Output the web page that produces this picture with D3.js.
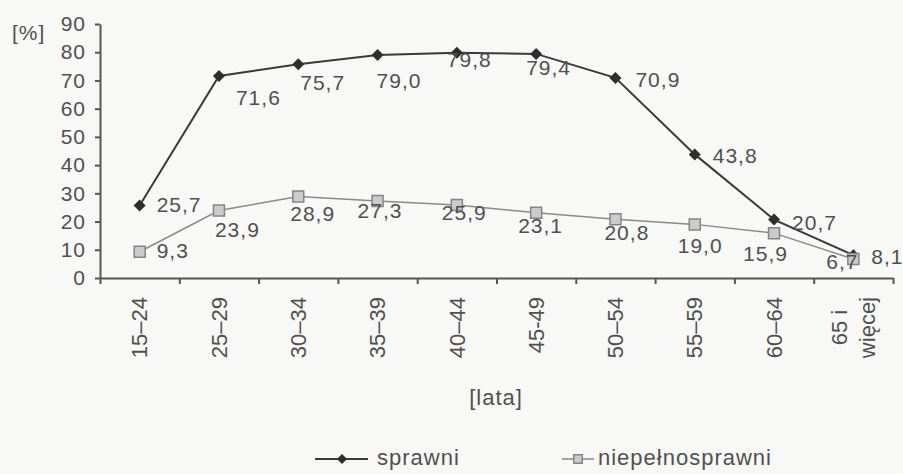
<!DOCTYPE html>
<html>
<head>
<meta charset="utf-8">
<script src="https://cdn.jsdelivr.net/npm/d3@7"></script>
<style>
  body { margin: 0; background: #f8f8f6; }
  svg { display: block; }
  text { font-family: "Liberation Sans", Arial, sans-serif; fill: #505050; }
</style>
</head>
<body>
<svg id="chart" width="903" height="474"></svg>
<script>
// data
var categories = ["15–24", "25–29", "30–34", "35–39", "40–44", "45-49", "50–54", "55–59", "60–64", "65 i\nwięcej"];
var sprawni = [25.7, 71.6, 75.7, 79.0, 79.8, 79.4, 70.9, 43.8, 20.7, 8.1];
var niepelnosprawni = [9.3, 23.9, 28.9, 27.3, 25.9, 23.1, 20.8, 19.0, 15.9, 6.7];
var yTicks = [0, 10, 20, 30, 40, 50, 60, 70, 80, 90];

// label offsets (dx, dy) from each point, as placed in the original
var sprawniLabelPos = [[17,7],[17,29],[2,26],[-1,33],[-10,14],[-10,21],[20,9],[18,9],[18,10],[18,9]];
var niepLabelPos = [[17,6],[-4,26],[-8,25],[-20,17],[-15,15],[-18,20],[-11,21],[-17,29],[-31,28],[-27,10]];

var svg = d3.select("#chart"),
    margin = {top: 24, right: 10, bottom: 196, left: 100},
    width = 793,
    height = 254;

var g = svg.append("g")
    .attr("transform", "translate(" + margin.left + "," + margin.top + ")");

var x = d3.scaleBand().domain(categories).range([0, width]);
var xb = d3.scaleLinear().domain([0, categories.length]).range([0, width]);
var y = d3.scaleLinear().domain([0, 90]).range([height, 0]);

var fmt = function(v) { return v.toFixed(1).replace(".", ","); };
var cx = function(i) { return x(categories[i]) + x.bandwidth() / 2; };

// y axis
var yAxis = g.append("g")
    .call(d3.axisLeft(y).tickValues(yTicks).tickSize(5).tickSizeOuter(0).tickPadding(9));
yAxis.selectAll("text")
    .style("font-size", "21px")
    .style("letter-spacing", "1px")
    .attr("fill", "#505050");

// x axis: ticks on category boundaries
var xAxis = g.append("g")
    .attr("transform", "translate(0," + height + ")")
    .call(d3.axisBottom(xb).tickValues(d3.range(categories.length + 1)).tickFormat("").tickSize(6).tickSizeOuter(0));

svg.selectAll(".domain, .tick line")
    .attr("stroke", "#555")
    .attr("stroke-width", 2);

// rotated category labels
var lab = g.append("g").selectAll("text")
  .data(categories)
  .enter().append("text")
    .attr("transform", function(d) {
      return "translate(" + (x(d) + x.bandwidth() / 2) + "," + (height + 19) + ") rotate(-90)";
    })
    .style("font-size", "22px")
    .attr("text-anchor", "end");

lab.each(function(d) {
  var t = d3.select(this), lines = d.split("\n");
  lines.forEach(function(l, k) {
    t.append("tspan")
      .attr("x", 0)
      .attr("dy", k === 0 ? (0.35 - (lines.length - 1) * 0.65) + "em" : "1.3em")
      .text(l);
  });
  if (lines.length > 1) {
    var w = d3.max(t.selectAll("tspan").nodes(), function(n) { return n.getComputedTextLength(); });
    t.attr("text-anchor", "middle")
      .attr("transform", "translate(" + (x(d) + x.bandwidth() / 2) + "," + (height + 19 + w / 2) + ") rotate(-90)");
  }
});

// axis titles
svg.append("text")
    .attr("x", 12).attr("y", 40)
    .style("font-size", "21px")
    .style("letter-spacing", "1px")
    .text("[%]");

svg.append("text")
    .attr("x", 496).attr("y", 405)
    .attr("text-anchor", "middle")
    .style("font-size", "22px")
    .style("letter-spacing", "1px")
    .text("[lata]");

// lines
var line = d3.line()
    .x(function(d, i) { return cx(i); })
    .y(function(d) { return y(d); });

g.append("path")
    .datum(sprawni)
    .attr("fill", "none")
    .attr("stroke", "#3a3a3a")
    .attr("stroke-width", 2)
    .attr("d", line);

g.selectAll(".dia")
  .data(sprawni)
  .enter().append("path")
    .attr("class", "dia")
    .attr("d", d3.symbol(d3.symbolSquare, 72))
    .attr("transform", function(d, i) { return "translate(" + cx(i) + "," + y(d) + ") rotate(45)"; })
    .attr("fill", "#2e2e2e");

g.append("path")
    .datum(niepelnosprawni)
    .attr("fill", "none")
    .attr("stroke", "#8a8a8a")
    .attr("stroke-width", 1.5)
    .attr("d", line);

g.selectAll(".sq")
  .data(niepelnosprawni)
  .enter().append("path")
    .attr("class", "sq")
    .attr("d", d3.symbol(d3.symbolSquare, 121))
    .attr("transform", function(d, i) { return "translate(" + cx(i) + "," + y(d) + ")"; })
    .attr("fill", "#cbcbcb")
    .attr("stroke", "#858585")
    .attr("stroke-width", 1.5);

// value labels
function valueLabels(values, pos) {
  g.append("g").selectAll("text")
    .data(values)
    .enter().append("text")
      .attr("x", function(d, i) { return cx(i) + pos[i][0]; })
      .attr("y", function(d, i) { return y(d) + pos[i][1]; })
      .style("font-size", "21px")
      .style("letter-spacing", "1px")
      .text(fmt);
}
valueLabels(sprawni, sprawniLabelPos);
valueLabels(niepelnosprawni, niepLabelPos);

// legend
var leg = svg.append("g");
leg.append("line").attr("x1", 315).attr("x2", 368).attr("y1", 459).attr("y2", 459)
    .attr("stroke", "#3a3a3a").attr("stroke-width", 2);
leg.append("path").attr("d", d3.symbol(d3.symbolSquare, 50))
    .attr("transform", "translate(342,459) rotate(45)").attr("fill", "#2e2e2e");
leg.append("text").attr("x", 377).attr("y", 465)
    .style("font-size", "22px").style("letter-spacing", "1px").text("sprawni");

leg.append("line").attr("x1", 562).attr("x2", 594).attr("y1", 459).attr("y2", 459)
    .attr("stroke", "#8a8a8a").attr("stroke-width", 1.5);
leg.append("path").attr("d", d3.symbol(d3.symbolSquare, 72))
    .attr("transform", "translate(578,459)")
    .attr("fill", "#cbcbcb").attr("stroke", "#858585").attr("stroke-width", 1.5);
leg.append("text").attr("x", 598).attr("y", 465)
    .style("font-size", "22px").style("letter-spacing", "1px").text("niepełnosprawni");
</script>
</body>
</html>
